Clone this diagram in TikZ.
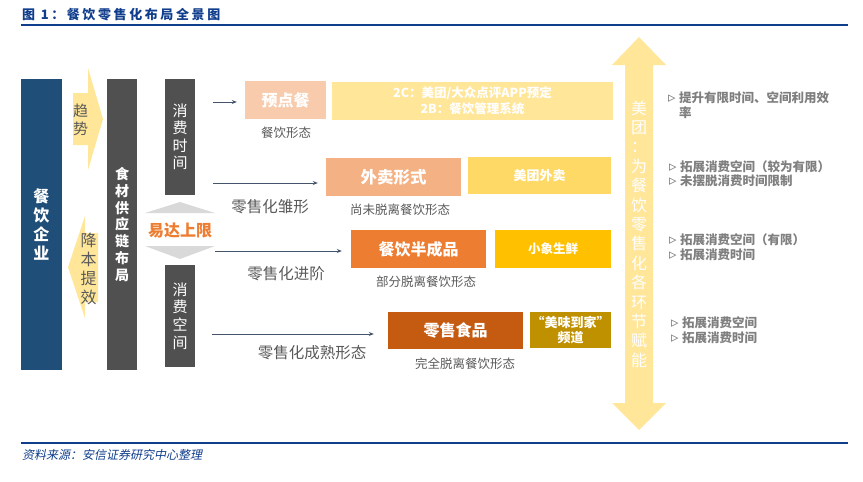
\documentclass[tikz,border=0pt]{standalone}
\usepackage{fontspec}
\setmainfont{Noto Sans CJK SC}
\newfontfamily\titlefont{Noto Sans CJK SC}[LetterSpace=20]
\newfontfamily\srcfont{Noto Sans CJK SC}[FakeSlant=0.2]
\newfontfamily\symfont{DejaVu Sans}
\usetikzlibrary{arrows.meta}

\definecolor{navy}{RGB}{31,78,121}
\definecolor{titleblue}{RGB}{16,62,140}
\definecolor{chaingray}{RGB}{80,80,80}
\definecolor{txtgray}{RGB}{89,89,89}
\definecolor{notegray}{RGB}{127,127,127}
\definecolor{linkgray}{RGB}{68,84,106}
\definecolor{peach}{RGB}{248,203,173}
\definecolor{salmon}{RGB}{244,177,131}
\definecolor{deeporange}{RGB}{237,125,49}
\definecolor{rust}{RGB}{197,90,17}
\definecolor{paleyellow}{RGB}{255,230,153}
\definecolor{sunyellow}{RGB}{255,217,102}
\definecolor{amber}{RGB}{255,192,0}
\definecolor{olivegold}{RGB}{191,144,0}
\definecolor{trigray}{RGB}{217,217,217}

\newcommand{\bul}{\makebox[11pt][l]{\symfont\mdseries\fontsize{15}{10}\selectfont ▹}}

\tikzset{
  box/.style={rectangle, inner sep=0pt, text=white, font=\bfseries\fontsize{16}{16}\selectfont},
  smallbox/.style={box, align=center, font=\bfseries\fontsize{12.5}{16}\selectfont},
  vtext/.style={align=center, inner sep=0pt},
  lbl/.style={text=txtgray, inner sep=0pt, font=\fontsize{12.5}{12.5}\selectfont},
  stage/.style={text=txtgray, inner sep=0pt, font=\fontsize{15.5}{15.5}\selectfont},
  link/.style={draw=linkgray, line width=1pt, -{Stealth[length=5pt,width=4pt]}},
  note/.style={text=notegray, anchor=west, align=left, inner sep=0pt, font=\bfseries\fontsize{12.5}{14.5}\selectfont},
}

\begin{document}
\begin{tikzpicture}[x=1pt,y=-1pt]
    \useasboundingbox (0,0) rectangle (863,482);
    \node[anchor=west, inner sep=0pt, text=titleblue, font=\titlefont\bfseries\fontsize{13}{13}\selectfont] (title) at (22,15) {图 1：餐饮零售化布局全景图};
    \draw [titleblue, line width=2pt] (21,25) -- (848,25);
    \draw [titleblue, line width=2pt] (21,443) -- (848,443);
    \node[anchor=west, inner sep=0pt, text=titleblue, font=\srcfont\fontsize{12}{12}\selectfont] (source) at (22,455) {资料来源：安信证券研究中心整理};

    \node[box, fill=navy, minimum width=41pt, minimum height=291pt, align=center, font=\bfseries\fontsize{16}{19}\selectfont] (qiye) at (41.5,224.5) {餐\\饮\\企\\业};
    \node[box, fill=chaingray, minimum width=30pt, minimum height=291pt, align=center, font=\bfseries\fontsize{14}{16.8}\selectfont] (gongying) at (122,224.5) {食\\材\\供\\应\\链\\布\\局};
    \node[box, fill=chaingray, minimum width=30pt, minimum height=116pt, align=center, font=\fontsize{15}{17.5}\selectfont] (shijian) at (180,137) {消\\费\\时\\间};
    \node[box, fill=chaingray, minimum width=30pt, minimum height=102pt, align=center, font=\fontsize{15}{17.7}\selectfont] (kongjian) at (180,316) {消\\费\\空\\间};

    \fill [paleyellow] (73,93) -- (88,93) -- (88,68) -- (103,119) -- (88,170) -- (88,145) -- (73,145) -- cycle;
    \node[vtext, text=txtgray, font=\fontsize{15}{18}\selectfont] (qushi) at (80.5,120) {趋\\势};
    \fill [paleyellow] (98,233) -- (85,233) -- (85,216) -- (68,267) -- (85,318) -- (85,302) -- (98,302) -- cycle;
    \node[vtext, text=txtgray, font=\fontsize{16}{19}\selectfont] (jiangben) at (88.5,269) {降\\本\\提\\效};

    \fill [trigray] (145,213) -- (180,202) -- (215,213) -- cycle;
    \fill [trigray] (145,246) -- (215,246) -- (180,259) -- cycle;
    \node[inner sep=0pt, text=deeporange, font=\bfseries\fontsize{16}{16}\selectfont] (yida) at (180,231) {易达上限};

    \node[box, fill=peach, minimum width=81pt, minimum height=38pt] (yudian) at (285.5,100) {预点餐};
    \node[box, fill=salmon, minimum width=135pt, minimum height=38pt, font=\bfseries\fontsize{16.5}{16.5}\selectfont] (waimai) at (393.5,177) {外卖形式};
    \node[box, fill=deeporange, minimum width=135pt, minimum height=38pt] (banchengpin) at (418.5,249) {餐饮半成品};
    \node[box, fill=rust, minimum width=135pt, minimum height=37pt] (shipin) at (455.5,330.5) {零售食品};

    \node[smallbox, fill=paleyellow, minimum width=281pt, minimum height=38pt] (yuding) at (472.5,101) {2C：美团/大众点评APP预定\\2B：餐饮管理系统};
    \node[smallbox, fill=sunyellow, minimum width=143pt, minimum height=37pt, font=\bfseries\fontsize{13}{13}\selectfont] (mtwm) at (539.5,175.5) {美团外卖};
    \node[smallbox, fill=amber, minimum width=116pt, minimum height=38pt] (xiaoxiang) at (553,249) {小象生鲜};
    \node[smallbox, fill=olivegold, minimum width=81pt, minimum height=36pt, font=\bfseries\fontsize{13}{15}\selectfont] (meiwei) at (570.5,330) {“美味到家”\\频道};

    \node[lbl] (xingtai1) at (286,133) {餐饮形态};
    \node[lbl] (xingtai2) at (400,210) {尚未脱离餐饮形态};
    \node[lbl] (xingtai3) at (426,282) {部分脱离餐饮形态};
    \node[lbl] (xingtai4) at (465,364) {完全脱离餐饮形态};
    \node[stage] (chuxing) at (270,207) {零售化雏形};
    \node[stage] (jinjie) at (286,274) {零售化进阶};
    \node[stage] (chengshu) at (312,353) {零售化成熟形态};

    \coordinate (s1) at (213,102);
    \coordinate (s2) at (213,183);
    \coordinate (s3) at (215,251);
    \coordinate (s4) at (212,334);
    \draw [link, shorten >=8pt] (s1) -- (s1 -| yudian.west);
    \draw [link, shorten >=8pt] (s2) -- (s2 -| waimai.west);
    \draw [link, shorten >=9pt] (s3) -- (s3 -| banchengpin.west);
    \draw [link, shorten >=14pt] (s4) -- (s4 -| shipin.west);

    \fill [paleyellow] (639,37) -- (666,65) -- (653,65) -- (653,403) -- (666,403) -- (639,430) -- (612,403) -- (625,403) -- (625,65) -- (612,65) -- cycle;
    \node[vtext, text=white, font=\fontsize{16}{19.4}\selectfont] (funeng) at (639,234) {美\\团\\：\\为\\餐\\饮\\零\\售\\化\\各\\环\\节\\赋\\能};

    \node[note] (note1) at (668,105) {\bul 提升有限时间、空间利用效\\\hphantom{\bul}率};
    \node[note] (note2) at (669,173.5) {\bul 拓展消费空间（较为有限）\\\bul 未摆脱消费时间限制};
    \node[note] (note3) at (669,247) {\bul 拓展消费空间（有限）\\\bul 拓展消费时间};
    \node[note] (note4) at (671,330) {\bul 拓展消费空间\\\bul 拓展消费时间};
\end{tikzpicture}
\end{document}
